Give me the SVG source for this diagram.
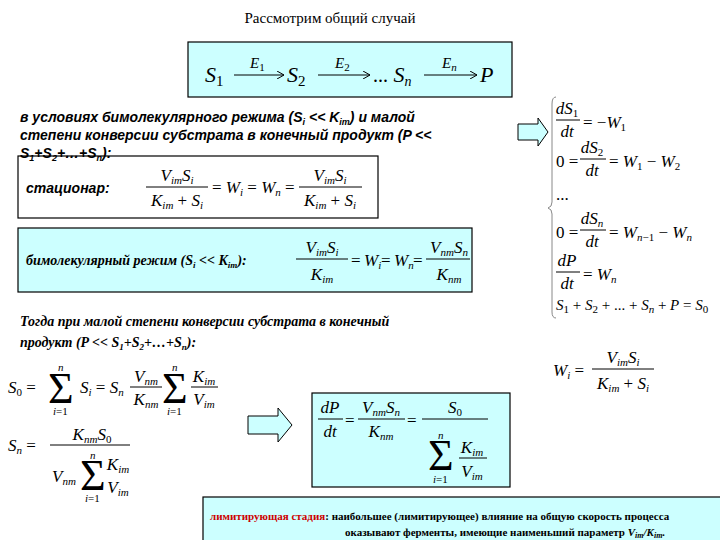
<svg xmlns="http://www.w3.org/2000/svg" width="720" height="540" viewBox="0 0 720 540">
<style>
.m{font-family:"Liberation Serif","DejaVu Serif",serif;font-style:italic;font-size:17px;fill:#000}
.r{font-family:"Liberation Serif","DejaVu Serif",serif;font-style:normal;font-size:17px;fill:#000}
.big{font-size:22px}
.sb{font-family:"Liberation Sans",sans-serif;font-weight:bold;font-style:italic;font-size:14px}
.tb{font-family:"Liberation Serif",serif;font-weight:bold;font-style:italic;font-size:14px}
.box{fill:#ccffff;stroke:#000;stroke-width:1.2}
.ln{stroke:#000;stroke-width:1}
.sg{font-family:"Liberation Serif",serif;font-style:normal;font-size:44px}
.s{font-size:11px}
</style>
<defs><marker id="ah" markerWidth="8" markerHeight="8" refX="7" refY="4" orient="auto" markerUnits="userSpaceOnUse"><path d="M0,0 L7,4 L0,8" fill="none" stroke="#000"/></marker></defs>
<rect width="720" height="540" fill="#fff"/>
<text x="330" y="23" text-anchor="middle" class="r" font-size="15" style="font-size:15px">Рассмотрим общий случай</text>

<g id="scheme">
<rect class="box" x="188" y="42" width="324" height="55"/>
<text class="m big" x="205" y="82">S<tspan class="r" style="font-size:15px" dy="4">1</tspan></text>
<text class="m big" x="287" y="82">S<tspan class="r" style="font-size:15px" dy="4">2</tspan></text>
<text class="m big" x="373" y="82"><tspan class="r" style="font-size:20px">...</tspan> S<tspan style="font-size:14px" dy="4">n</tspan></text>
<text class="m big" x="480" y="82">P</text>
<text class="m" x="250" y="68" style="font-size:15px">E<tspan class="r" style="font-size:11px" dy="3">1</tspan></text>
<text class="m" x="335" y="68" style="font-size:15px">E<tspan class="r" style="font-size:11px" dy="3">2</tspan></text>
<text class="m" x="442" y="68" style="font-size:15px">E<tspan style="font-size:11px" dy="3">n</tspan></text>
</g>
<g id="connectors">
<line class="ln" x1="234" y1="75" x2="284" y2="75" marker-end="url(#ah)"/>
<line class="ln" x1="318" y1="75" x2="370" y2="75" marker-end="url(#ah)"/>
<line class="ln" x1="424" y1="75" x2="477" y2="75" marker-end="url(#ah)"/>
<path d="M518,124 H538 V118 L548,132 L538,146 V140 H518 Z" fill="#ccffff" stroke="#000"/>
<path d="M248,416 H278 V408 L292,425 L278,442 V434 H248 Z" fill="#ccffff" stroke="#000"/>
</g>

<g id="cond">
<text class="sb" x="20" y="122">в условиях бимолекулярного режима (S<tspan font-size="9" dy="3">i</tspan><tspan dy="-3"> &lt;&lt; K</tspan><tspan font-size="9" dy="3">im</tspan><tspan dy="-3">) и малой</tspan></text>
<text class="sb" x="20" y="140">степени конверсии субстрата в конечный продукт (P &lt;&lt;</text>
</g>

<g id="stationary">
<rect x="18" y="156" width="360" height="62" fill="#fff" stroke="#000" stroke-width="1.2"/>
<text class="sb" x="20" y="158">S<tspan font-size="9" dy="3">1</tspan><tspan dy="-3">+S</tspan><tspan font-size="9" dy="3">2</tspan><tspan dy="-3">+…+S</tspan><tspan font-size="9" dy="3">n</tspan><tspan dy="-3">):</tspan></text>
<text class="sb" x="26" y="193">стационар:</text>
<text class="m" x="177" y="181" text-anchor="middle">V<tspan class="s" dy="3">im</tspan><tspan dy="-3">S</tspan><tspan class="s" dy="3">i</tspan></text>
<line class="ln" x1="146" y1="187" x2="208" y2="187"/>
<text class="m" x="177" y="206" text-anchor="middle">K<tspan class="s" dy="3">im</tspan><tspan class="r" dy="-3"> + </tspan>S<tspan class="s" dy="3">i</tspan></text>
<text class="m" x="212" y="193"><tspan class="r">= </tspan>W<tspan class="s" dy="3">i</tspan><tspan class="r" dy="-3"> = </tspan>W<tspan class="s" dy="3">n</tspan><tspan class="r" dy="-3"> =</tspan></text>
<text class="m" x="330" y="181" text-anchor="middle">V<tspan class="s" dy="3">im</tspan><tspan dy="-3">S</tspan><tspan class="s" dy="3">i</tspan></text>
<line class="ln" x1="299" y1="187" x2="362" y2="187"/>
<text class="m" x="330" y="206" text-anchor="middle">K<tspan class="s" dy="3">im</tspan><tspan class="r" dy="-3"> + </tspan>S<tspan class="s" dy="3">i</tspan></text>
</g>

<g id="bimol">
<rect class="box" x="18" y="228" width="454" height="64"/>
<text class="tb" x="26" y="265">бимолекулярный режим (S<tspan font-size="9" dy="3">i</tspan><tspan dy="-3"> &lt;&lt; K</tspan><tspan font-size="9" dy="3">im</tspan><tspan dy="-3">):</tspan></text>
<text class="m" x="322" y="253" text-anchor="middle">V<tspan class="s" dy="3">im</tspan><tspan dy="-3">S</tspan><tspan class="s" dy="3">i</tspan></text>
<line class="ln" x1="296" y1="259" x2="348" y2="259"/>
<text class="m" x="322" y="280" text-anchor="middle">K<tspan class="s" dy="3">im</tspan></text>
<text class="r" x="351" y="266" fill="#444">=</text>
<text class="m" x="364" y="266">W<tspan class="s" dy="3">i</tspan></text>
<text class="r" x="381" y="266">=</text>
<text class="m" x="394" y="266">W<tspan class="s" dy="3">n</tspan></text>
<text class="r" x="413" y="266">=</text>
<text class="m" x="449" y="253" text-anchor="middle">V<tspan class="s" dy="3">nm</tspan><tspan dy="-3">S</tspan><tspan class="s" dy="3">n</tspan></text>
<line class="ln" x1="426" y1="259" x2="470" y2="259"/>
<text class="m" x="449" y="280" text-anchor="middle">K<tspan class="s" dy="3">nm</tspan></text>
</g>

<g id="then">
<text class="tb" x="20" y="326">Тогда при малой степени конверсии субстрата в конечный</text>
<text class="tb" x="20" y="347">продукт (P &lt;&lt; S<tspan font-size="9" dy="3">1</tspan><tspan dy="-3">+S</tspan><tspan font-size="9" dy="3">2</tspan><tspan dy="-3">+…+S</tspan><tspan font-size="9" dy="3">n</tspan><tspan dy="-3">):</tspan></text>
</g>

<g id="system">
<path d="M556,97 Q552,97 552,104 V202 Q552,207 548,208 Q552,209 552,214 V312 Q552,318 556,318" fill="none" stroke="#888"/>
<text class="m" x="567" y="114" text-anchor="middle">dS<tspan class="r s" dy="3">1</tspan></text>
<line class="ln" x1="556" y1="120" x2="580" y2="120"/>
<text class="m" x="567" y="137" text-anchor="middle">dt</text>
<text class="m" x="583" y="128"><tspan class="r">= −</tspan>W<tspan class="r s" dy="3">1</tspan></text>

<text class="r" x="556" y="167">0 =</text>
<text class="m" x="592" y="153" text-anchor="middle">dS<tspan class="r s" dy="3">2</tspan></text>
<line class="ln" x1="580" y1="159" x2="606" y2="159"/>
<text class="m" x="592" y="176" text-anchor="middle">dt</text>
<text class="m" x="609" y="167"><tspan class="r">= </tspan>W<tspan class="r s" dy="3">1</tspan><tspan class="r" dy="-3"> − </tspan>W<tspan class="r s" dy="3">2</tspan></text>

<text class="r" x="556" y="200">...</text>

<text class="r" x="556" y="238">0 =</text>
<text class="m" x="592" y="224" text-anchor="middle">dS<tspan class="s" dy="3">n</tspan></text>
<line class="ln" x1="580" y1="230" x2="606" y2="230"/>
<text class="m" x="592" y="247" text-anchor="middle">dt</text>
<text class="m" x="609" y="238"><tspan class="r">= </tspan>W<tspan class="s" dy="3">n</tspan><tspan class="r s">−1</tspan><tspan class="r" dy="-3"> − </tspan>W<tspan class="s" dy="3">n</tspan></text>

<text class="m" x="567" y="266" text-anchor="middle">dP</text>
<line class="ln" x1="556" y1="272" x2="580" y2="272"/>
<text class="m" x="567" y="289" text-anchor="middle">dt</text>
<text class="m" x="583" y="280"><tspan class="r">= </tspan>W<tspan class="s" dy="3">n</tspan></text>

<text class="m" x="556" y="310" style="font-size:15px">S<tspan class="r s" dy="3">1</tspan><tspan class="r" style="font-size:15px" dy="-3"> + </tspan>S<tspan class="r s" dy="3">2</tspan><tspan class="r" style="font-size:15px" dy="-3"> + ... + </tspan>S<tspan class="s" dy="3">n</tspan><tspan class="r" style="font-size:15px" dy="-3"> + </tspan>P<tspan class="r" style="font-size:15px"> = </tspan>S<tspan class="r s" dy="3">0</tspan></text>
</g>

<g id="wi">
<text class="m" x="553" y="376">W<tspan class="s" dy="3">i</tspan><tspan class="r" dy="-3"> =</tspan></text>
<text class="m" x="623" y="363" text-anchor="middle">V<tspan class="s" dy="3">im</tspan><tspan dy="-3">S</tspan><tspan class="s" dy="3">i</tspan></text>
<line class="ln" x1="592" y1="369" x2="654" y2="369"/>
<text class="m" x="623" y="389" text-anchor="middle">K<tspan class="s" dy="3">im</tspan><tspan class="r" dy="-3"> + </tspan>S<tspan class="s" dy="3">i</tspan></text>
</g>

<g id="s0">
<text class="m" x="8" y="393">S<tspan class="r s" dy="3">0</tspan><tspan class="r" dy="-3"> =</tspan></text>
<text class="sg" x="48" y="403">Σ</text>
<text class="m s" x="58" y="371">n</text>
<text class="r s" x="53" y="415"><tspan font-style="italic">i</tspan>=1</text>
<text class="m" x="80" y="393">S<tspan class="s" dy="3">i</tspan><tspan class="r" dy="-3"> = </tspan>S<tspan class="s" dy="3">n</tspan></text>
<text class="m" x="146" y="382" text-anchor="middle">V<tspan class="s" dy="3">nm</tspan></text>
<line class="ln" x1="130" y1="387" x2="162" y2="387"/>
<text class="m" x="146" y="405" text-anchor="middle">K<tspan class="s" dy="3">nm</tspan></text>
<text class="sg" x="162" y="403">Σ</text>
<text class="m s" x="172" y="371">n</text>
<text class="r s" x="167" y="415"><tspan font-style="italic">i</tspan>=1</text>
<text class="m" x="204" y="382" text-anchor="middle">K<tspan class="s" dy="3">im</tspan></text>
<line class="ln" x1="191" y1="387" x2="218" y2="387"/>
<text class="m" x="204" y="405" text-anchor="middle">V<tspan class="s" dy="3">im</tspan></text>
</g>

<g id="sn">
<text class="m" x="8" y="451">S<tspan class="s" dy="3">n</tspan><tspan class="r" dy="-3"> =</tspan></text>
<text class="m" x="92" y="440" text-anchor="middle">K<tspan class="s" dy="3">nm</tspan><tspan dy="-3">S</tspan><tspan class="r s" dy="3">0</tspan></text>
<line class="ln" x1="50" y1="445" x2="130" y2="445"/>
<text class="m" x="52" y="482">V<tspan class="s" dy="3">nm</tspan></text>
<text class="sg" x="80" y="490">Σ</text>
<text class="m s" x="90" y="459">n</text>
<text class="r s" x="85" y="502"><tspan font-style="italic">i</tspan>=1</text>
<text class="m" x="118" y="470" text-anchor="middle">K<tspan class="s" dy="3">im</tspan></text>
<text class="m" x="118" y="493" text-anchor="middle">V<tspan class="s" dy="3">im</tspan></text>
</g>

<g id="result">
<rect class="box" x="312" y="393" width="198" height="94"/>
<text class="m" x="330" y="413" text-anchor="middle">dP</text>
<line class="ln" x1="318" y1="419" x2="343" y2="419"/>
<text class="m" x="330" y="437" text-anchor="middle">dt</text>
<text class="r" x="345" y="426">=</text>
<text class="m" x="381" y="413" text-anchor="middle">V<tspan class="s" dy="3">nm</tspan><tspan dy="-3">S</tspan><tspan class="s" dy="3">n</tspan></text>
<line class="ln" x1="358" y1="419" x2="405" y2="419"/>
<text class="m" x="381" y="437" text-anchor="middle">K<tspan class="s" dy="3">nm</tspan></text>
<text class="r" x="407" y="426">=</text>
<text class="m" x="455" y="413" text-anchor="middle">S<tspan class="r s" dy="3">0</tspan></text>
<line class="ln" x1="422" y1="419" x2="488" y2="419"/>
<text class="sg" x="428" y="470">Σ</text>
<text class="m s" x="438" y="439">n</text>
<text class="r s" x="433" y="483"><tspan font-style="italic">i</tspan>=1</text>
<text class="m" x="472" y="453" text-anchor="middle">K<tspan class="s" dy="3">im</tspan></text>
<line class="ln" x1="459" y1="458" x2="487" y2="458"/>
<text class="m" x="472" y="477" text-anchor="middle">V<tspan class="s" dy="3">im</tspan></text>
</g>

<g id="limiting">
<rect class="box" x="203" y="497" width="520" height="46"/>
<text x="210" y="520" font-family="Liberation Serif,serif" font-weight="bold" font-size="11"><tspan fill="#cc0000">лимитирующая стадия</tspan>: наибольшее (лимитирующее) влияние на общую скорость процесса</text>
<text x="345" y="536" font-family="Liberation Serif,serif" font-weight="bold" font-size="11">оказывают ферменты, имеющие наименьший параметр <tspan font-style="italic">V<tspan font-size="8" dy="2">im</tspan><tspan dy="-2">/K</tspan><tspan font-size="8" dy="2">im</tspan><tspan dy="-2">.</tspan></tspan></text>
</g>
</svg>
